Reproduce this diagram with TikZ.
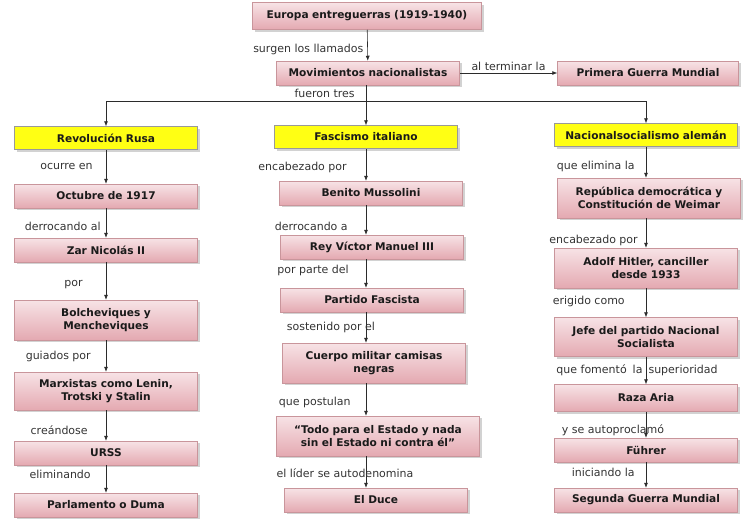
\documentclass[tikz,border=0pt]{standalone}
\usepackage{fontspec}
\setmainfont{DejaVu Sans}
\usepackage{tikz}
\usetikzlibrary{arrows.meta,positioning,shadows}
\definecolor{pinkA}{HTML}{F7E3E6}
\definecolor{pinkB}{HTML}{E4A9B1}
\definecolor{pinkEdge}{HTML}{C9959B}
\definecolor{hdrYellow}{HTML}{FFFF14}
\definecolor{lineGray}{HTML}{2B2B2B}
\definecolor{txtDark}{HTML}{1A1A1A}

\begin{document}
\begin{tikzpicture}[x=1pt,y=-1pt,
  box/.style={draw=pinkEdge, line width=0.5pt, top color=pinkA, bottom color=pinkB,
    drop shadow={shadow xshift=2pt, shadow yshift=-2pt, fill=black!35},
    minimum width=183pt, minimum height=24pt, text width=178pt, align=center,
    inner sep=1.5pt, font=\bfseries\fontsize{10.6}{13.5}\selectfont, text=txtDark},
  tall/.style={minimum height=40pt},
  hdr/.style={box, draw=black!40, fill=hdrYellow, top color=hdrYellow, bottom color=hdrYellow,
    minimum height=23pt},
  lbl/.style={font=\fontsize{11}{12}\selectfont, text=black!80, inner sep=1pt},
  arr/.style={-{Latex[length=5pt,width=4pt]}, draw=lineGray, line width=0.6pt},
  every edge/.style={draw, arr}]
\useasboundingbox (0,0) rectangle (756,528);

\node[box, minimum width=229pt, text width=225pt, minimum height=27pt] (top) at (367,16) {Europa entreguerras (1919-1940)};
\node[box] (mov) at (368,73) {Movimientos nacionalistas};
\node[box, minimum width=180pt] (pgm) at (648,73) {Primera Guerra Mundial};
\coordinate (split) at (366,101);

\node[hdr] (rev) at (106,138) {Revolución Rusa};
\node[box] (oct) at (106,196) {Octubre de 1917};
\node[box] (zar) at (106,250) {Zar Nicolás II};
\node[box, tall] (bol) at (106,320) {Bolcheviques y\\Mencheviques};
\node[box, minimum height=38pt] (mar) at (106,391) {Marxistas como Lenin,\\Trotski y Stalin};
\node[box] (urss) at (106,453) {URSS};
\node[box] (parl) at (106,505) {Parlamento o Duma};

\node[hdr] (fas) at (366,137) {Fascismo italiano};
\node[box] (ben) at (371,193) {Benito Mussolini};
\node[box] (rey) at (372,247) {Rey Víctor Manuel III};
\node[box] (par) at (372,300) {Partido Fascista};
\node[box, tall] (cue) at (374,363) {Cuerpo militar camisas\\negras};
\node[box, tall, minimum width=203pt, text width=198pt] (tod) at (378,436) {“Todo para el Estado y nada\\sin el Estado ni contra él”};
\node[box] (duc) at (376,500) {El Duce};

\node[hdr] (nac) at (646,135) {Nacionalsocialismo alemán};
\node[box, tall] (rep) at (649,198) {República democrática y\\Constitución de Weimar};
\node[box, tall] (hit) at (646,268) {Adolf Hitler, canciller\\desde 1933};
\node[box, minimum height=39pt] (jef) at (646,337) {Jefe del partido Nacional\\Socialista};
\node[box, minimum height=27pt] (raz) at (646,398) {Raza Aria};
\node[box] (fuh) at (646,450) {Führer};
\node[box] (seg) at (646,500) {Segunda Guerra Mundial};

\path (top) edge node[lbl, left=3pt, pos=0.62] {surgen los llamados} (mov);
\path (mov) edge node[lbl, above=1pt] {al terminar la} (pgm);
\draw[draw=lineGray, line width=0.6pt] (mov.south -| split) -- node[lbl, left=10pt] {fueron tres} (split);
\draw[arr] (split) -| (rev);
\draw[arr] (split) -- (fas);
\draw[arr] (split) -| (nac);

\path (rev) edge node[lbl, left=12pt] {ocurre en} (oct)
      (oct) edge node[lbl, left=4pt, pos=0.6] {derrocando al} (zar)
      (zar) edge node[lbl, left=22pt, pos=0.6] {por} (bol)
      (bol) edge node[lbl, left=14pt] {guiados por} (mar)
      (mar) edge node[lbl, left=17pt, pos=0.65] {creándose} (urss)
      (urss) edge node[lbl, left=14pt, pos=0.35] {eliminando} (parl);

\path (fas.south) edge node[lbl, left=18pt, pos=0.6] {encabezado por} (fas.south |- ben.north)
      (fas.south |- ben.south) edge node[lbl, left=17pt, pos=0.7] {derrocando a} (fas.south |- rey.north)
      (fas.south |- rey.south) edge node[lbl, left=16pt, pos=0.4] {por parte del} (fas.south |- par.north)
      (fas.south |- par.south) edge node[lbl, xshift=-35pt] {sostenido por el} (fas.south |- cue.north)
      (fas.south |- cue.south) edge node[lbl, left=14pt, pos=0.6] {que postulan} (fas.south |- tod.north)
      (fas.south |- tod.south) edge node[lbl, xshift=-21pt, pos=0.55] {el líder se autodenomina} (fas.south |- duc.north);

\path (nac) edge node[lbl, left=10pt, pos=0.65] {que elimina la} (nac.south |- rep.north)
      (nac.south |- rep.south) edge node[lbl, left=7pt, pos=0.75] {encabezado por} (hit)
      (hit) edge node[lbl, left=20pt, pos=0.45] {erigido como} (jef)
      (jef) edge node[lbl, xshift=-9pt] {que fomentó\hspace{6pt}la\hspace{6pt}superioridad} (raz)
      (raz) edge node[lbl, xshift=-33pt, pos=0.7] {y se autoproclamó} (fuh)
      (fuh) edge node[lbl, left=10pt, pos=0.4] {iniciando la} (seg);
\end{tikzpicture}
\end{document}
